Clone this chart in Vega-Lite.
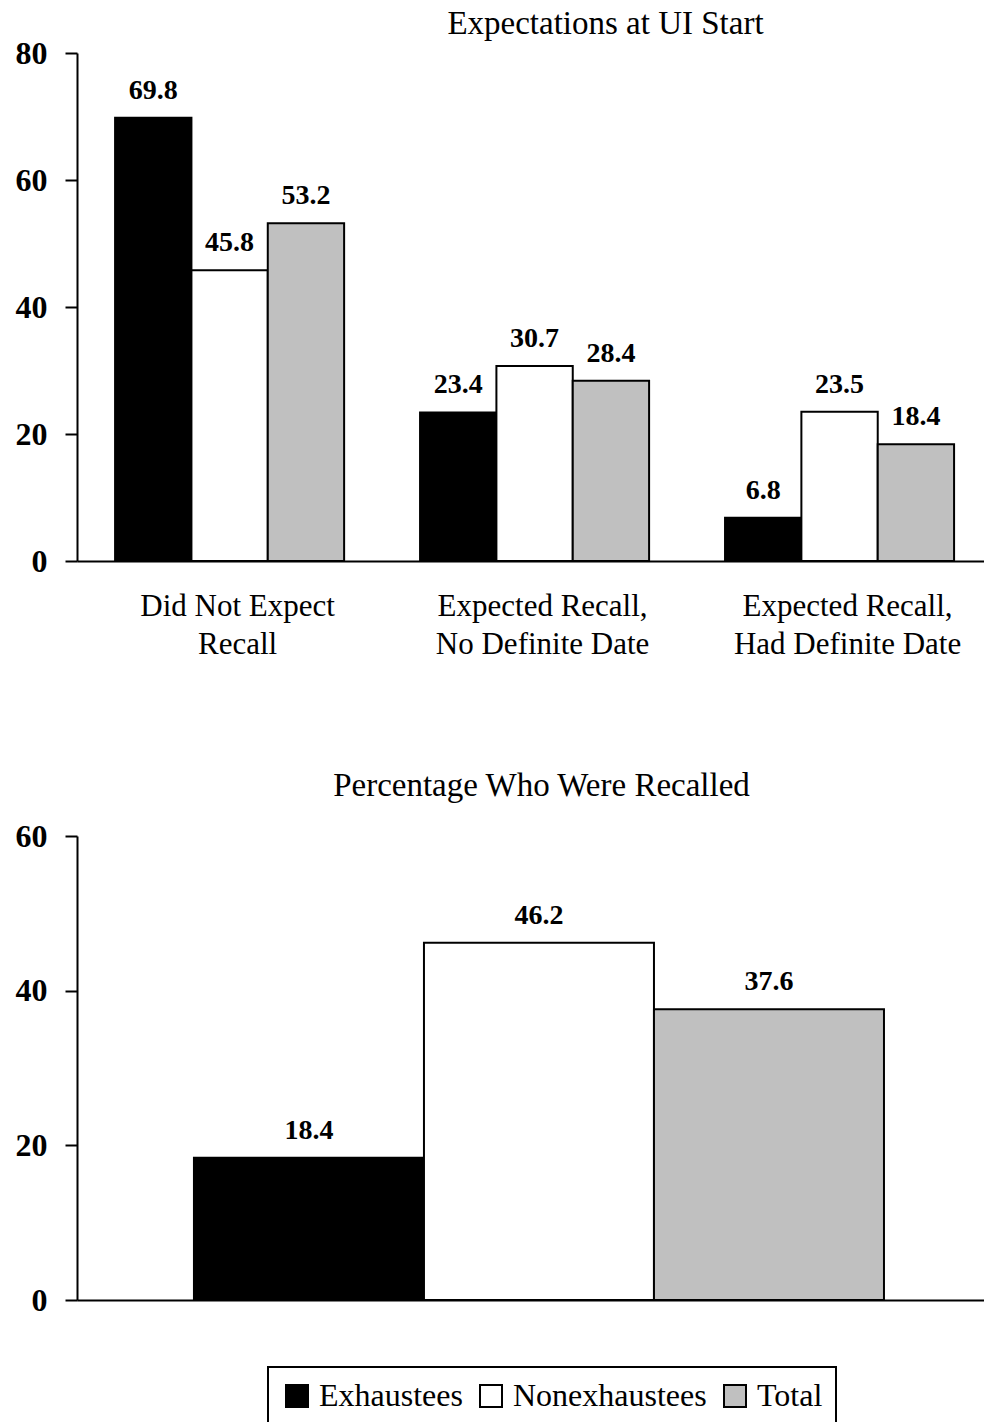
{
  "$schema": "https://vega.github.io/schema/vega-lite/v6.json",
  "padding": {"left": 8, "top": 8, "right": 0, "bottom": 0},
  "background": "white",
  "datasets": {
    "expectations": [
      {"expectation": "Did Not Expect Recall", "group": "Exhaustees", "pct": 69.8},
      {"expectation": "Did Not Expect Recall", "group": "Nonexhaustees", "pct": 45.8},
      {"expectation": "Did Not Expect Recall", "group": "Total", "pct": 53.2},
      {"expectation": "Expected Recall, No Definite Date", "group": "Exhaustees", "pct": 23.4},
      {"expectation": "Expected Recall, No Definite Date", "group": "Nonexhaustees", "pct": 30.7},
      {"expectation": "Expected Recall, No Definite Date", "group": "Total", "pct": 28.4},
      {"expectation": "Expected Recall, Had Definite Date", "group": "Exhaustees", "pct": 6.8},
      {"expectation": "Expected Recall, Had Definite Date", "group": "Nonexhaustees", "pct": 23.5},
      {"expectation": "Expected Recall, Had Definite Date", "group": "Total", "pct": 18.4}
    ],
    "recalled": [
      {"group": "Exhaustees", "pct": 18.4},
      {"group": "Nonexhaustees", "pct": 46.2},
      {"group": "Total", "pct": 37.6}
    ]
  },
  "columns": 1,
  "align": "none",
  "spacing": 111,
  "concat": [
    {
      "width": 907,
      "height": 508,
      "title": {"text": "Expectations at UI Start", "dx": 75, "offset": -4},
      "data": {"name": "expectations"},
      "encoding": {
        "x": {
          "field": "expectation", "type": "nominal", "sort": null,
          "scale": {"paddingInner": 0.249, "paddingOuter": 0.1115, "align": 0.56},
          "axis": {
            "title": null, "ticks": false, "labelAngle": 0, "labelPadding": 30, "labelOffset": 8,
            "labelFontSize": 31, "labelLineHeight": 38, "labelBaseline": "top", "labelLimit": 0,
            "labelExpr": "datum.value == 'Did Not Expect Recall' ? ['Did Not Expect', 'Recall'] : datum.value == 'Expected Recall, No Definite Date' ? ['Expected Recall,', 'No Definite Date'] : ['Expected Recall,', 'Had Definite Date']"
          }
        },
        "xOffset": {"field": "group", "type": "nominal", "sort": ["Exhaustees", "Nonexhaustees", "Total"], "scale": {"paddingInner": 0, "paddingOuter": 0}},
        "y": {
          "field": "pct", "type": "quantitative",
          "scale": {"domain": [0, 80], "nice": false},
          "axis": {"title": null, "values": [0, 20, 40, 60, 80], "minExtent": 69}
        }
      },
      "layer": [
        {
          "mark": {"type": "bar", "stroke": "black", "strokeWidth": 2},
          "encoding": {
            "color": {"field": "group", "type": "nominal", "sort": ["Exhaustees", "Nonexhaustees", "Total"],
              "scale": {"domain": ["Exhaustees", "Nonexhaustees", "Total"], "range": ["#000000", "#ffffff", "#c0c0c0"]}}
          }
        },
        {
          "mark": {"type": "text", "baseline": "alphabetic", "dy": -19, "fontSize": 28, "fontWeight": "bold"},
          "encoding": {"text": {"field": "pct", "type": "quantitative", "format": ".1f"}}
        }
      ]
    },
    {
      "width": 907,
      "height": 464,
      "title": {"text": "Percentage Who Were Recalled", "dx": 11, "offset": 17},
      "data": {"name": "recalled"},
      "encoding": {
        "x": {
          "field": "group", "type": "nominal", "sort": ["Exhaustees", "Nonexhaustees", "Total"],
          "scale": {"paddingInner": 0, "paddingOuter": 0.4717, "align": 0.539},
          "axis": {"title": null, "ticks": false, "labels": false}
        },
        "y": {
          "field": "pct", "type": "quantitative",
          "scale": {"domain": [0, 60], "nice": false},
          "axis": {"title": null, "values": [0, 20, 40, 60], "minExtent": 69}
        }
      },
      "layer": [
        {
          "mark": {"type": "bar", "stroke": "black", "strokeWidth": 2},
          "encoding": {
            "color": {"field": "group", "type": "nominal", "sort": ["Exhaustees", "Nonexhaustees", "Total"],
              "scale": {"domain": ["Exhaustees", "Nonexhaustees", "Total"], "range": ["#000000", "#ffffff", "#c0c0c0"]},
              "legend": {
                "orient": "none", "direction": "horizontal", "legendX": 191, "legendY": 1314,
                "title": null, "symbolType": "square", "symbolSize": 484,
                "symbolStrokeColor": "black", "symbolStrokeWidth": 2,
                "labelFontSize": 32, "labelOffset": 6, "columnPadding": 12, "labelLimit": 0,
                "padding": 13, "strokeColor": "black",
                "encode": {"legend": {"update": {"strokeWidth": {"value": 2}}}}
              }
            }
          }
        },
        {
          "mark": {"type": "text", "baseline": "alphabetic", "dy": -19, "fontSize": 28, "fontWeight": "bold"},
          "encoding": {"text": {"field": "pct", "type": "quantitative", "format": ".1f"}}
        }
      ]
    }
  ],
  "resolve": {"scale": {"color": "shared"}},
  "config": {
    "font": "Liberation Serif",
    "view": {"stroke": null},
    "title": {"fontSize": 33, "fontWeight": "normal", "color": "black", "anchor": "middle"},
    "axis": {
      "domainColor": "black", "domainWidth": 2, "tickColor": "black", "tickWidth": 2,
      "labelColor": "black", "grid": false
    },
    "axisY": {"tickSize": 12, "labelFontSize": 32, "labelFontWeight": "bold", "labelPadding": 18},
    "legend": {"labelColor": "black", "labelFont": "Liberation Serif"}
  }
}
